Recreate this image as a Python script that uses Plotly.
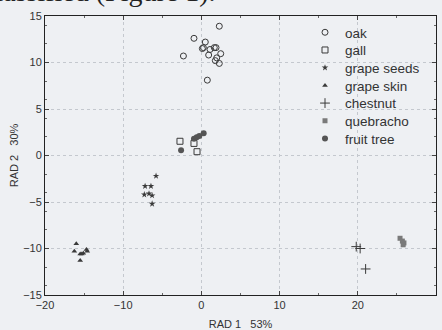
import plotly.graph_objects as go

oak_x = [2.29, -0.95, -2.3, 0.5, 0.25, 0.12, 1.1, 1.65, 1.87, 0.93, 2.47, 1.96, 1.78, 2.29, 0.76]
oak_y = [13.9, 12.6, 10.7, 12.2, 11.6, 11.5, 11.4, 11.6, 11.6, 10.8, 10.95, 10.5, 10.2, 9.9, 8.1]

gall_x = [-2.74, -0.95, -0.56]
gall_y = [1.53, 1.3, 0.41]

seeds_x = [-5.8, -7.2, -6.45, -7.3, -6.7, -6.3, -6.3]
seeds_y = [-2.2, -3.3, -3.3, -4.2, -4.1, -4.3, -5.2]

skin_x = [-16.0, -16.25, -15.5, -15.3, -14.7, -14.6, -15.5, -15.1]
skin_y = [-9.5, -10.3, -10.6, -10.6, -10.1, -10.3, -11.3, -10.5]

chestnut_x = [19.8, 20.3, 21.0]
chestnut_y = [-9.8, -10.0, -12.2]

quebracho_x = [25.4, 25.7, 25.9, 25.8]
quebracho_y = [-8.9, -9.2, -9.4, -9.6]

fruit_x = [-2.6, -0.95, -0.6, -0.27, 0.29]
fruit_y = [0.56, 1.8, 1.95, 2.1, 2.4]

x_ticks = [-20, -10, 0, 10, 20, 30]
y_ticks = [-15, -10, -5, 0, 5, 10, 15]

INK = "#3a3a3a"
BG = "#eef0f3"
FONT = "Liberation Sans, Arial, sans-serif"

PLOT_TOP, PLOT_H, PLOT_L, PLOT_W = 16, 279, 45, 391
ROW0, ROW_STEP = 33, 17.7

fig = go.Figure()
legend_layout = {}

def add(idx, name, xs, ys, symbol, size, color=INK, lw=1):
    key = "legend" if idx == 0 else f"legend{idx + 1}"
    fig.add_trace(go.Scatter(
        x=xs, y=ys, mode="markers", name=name, legend=key, showlegend=True,
        marker=dict(symbol=symbol, size=size, color=color,
                    line=dict(color=color, width=lw)),
    ))
    center = ROW0 + idx * ROW_STEP
    top = center - 16
    legend_layout[key] = dict(
        x=(305 - PLOT_L) / PLOT_W, y=1 - (top - PLOT_TOP) / PLOT_H,
        xanchor="left", yanchor="top", bgcolor="rgba(0,0,0,0)",
        font=dict(family=FONT, size=13.5, color="#333"), itemsizing="trace",
    )

add(0, "oak", oak_x, oak_y, "circle-open", 6)
add(1, "gall", gall_x, gall_y, "square-open", 6)
add(2, "grape seeds", seeds_x, seeds_y, "star", 5, lw=0)
add(3, "grape skin", skin_x, skin_y, "triangle-up", 5, lw=0)
add(4, "chestnut", chestnut_x, chestnut_y, "cross-thin-open", 7, lw=1)
add(5, "quebracho", quebracho_x, quebracho_y, "square", 5, color="#7a7a7a", lw=0)
add(6, "fruit tree", fruit_x, fruit_y, "circle", 6, color="#555555", lw=0)

axis_common = dict(
    showline=True, linecolor="#222", linewidth=1, mirror="allticks",
    ticks="inside", ticklen=4, tickcolor="#444",
    minor=dict(ticks="inside", ticklen=2, tickcolor="#666", nticks=5, showgrid=False),
    showgrid=True, gridcolor="#c4c8ce", griddash="dot", gridwidth=1,
    zeroline=False, automargin=False,
    tickfont=dict(family=FONT, size=11, color="#333"),
)

fig.update_xaxes(range=[-20, 30], tickvals=x_ticks,
                 title=dict(text="RAD 1   53%", font=dict(family=FONT, size=11, color="#333"), standoff=10),
                 **axis_common)
fig.update_yaxes(range=[-15, 15], tickvals=y_ticks,
                 title=dict(text="RAD 2   30%", font=dict(family=FONT, size=11, color="#333"), standoff=2),
                 **axis_common)

fig.add_annotation(text="classified (Figure 1).", xref="paper", yref="paper",
                   x=(218 - 45) / 391, y=1 + (16 - 9) / 279, xanchor="right", yanchor="bottom",
                   showarrow=False, font=dict(family="Liberation Serif, serif", size=28, color="#222"))

fig.update_layout(
    width=442, height=330, showlegend=True,
    margin=dict(l=45, r=6, t=16, b=35, autoexpand=False),
    paper_bgcolor=BG, plot_bgcolor=BG,
    font=dict(family=FONT, color="#333"),
    **legend_layout,
)

fig.write_html("out.html", config={"displayModeBar": False},
               post_script="document.body.style.margin='0';document.body.style.background='#eef0f3';")
